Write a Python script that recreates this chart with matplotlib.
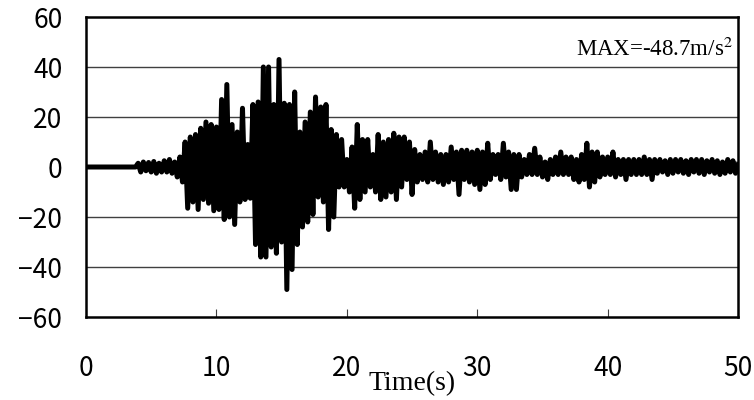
import numpy as np
from matplotlib import pyplot as plt
plt.rcParams["mathtext.fontset"] = "stix"

# time axis (s), 0.2 s step, and acceleration peaks (m/s^2)
t = np.round(np.arange(0, 50.01, 0.2), 1)
acc = [
    0, 0, 0, 0, 0,  0, 0, 0, 0, 0,  0, 0, 0, 0, 0,  0, 0, 0, 0, 0,
    1.5, -2, 2, -1.5, 1.8,          # 4
    -2, 2.2, -2.5, 1.5, -2,         # 5
    2.5, -2, 3, -2.5, 2,            # 6
    -4, 4, -6, 10, -16.5,           # 7
    12, -14, 13, -17, 15.5,         # 8
    -13, 18, -14.5, 17, -17.5,      # 9
    16, -17, 27, -21, 33,           # 10
    -20, 17, -23, 14, -14,          # 11
    23.5, -13, 9, -12.5, 25,        # 12
    -31, 26, -36, 40, -36,          # 13
    40, -32, 25, -34.5, 43,         # 14
    -30, 25.5, -49, 25, -41,        # 15
    30, -31, 14, -24, 18,           # 16
    -22, 22, -19, 28, -12,          # 17
    24, -14, 25, -25, 15,           # 18
    -20, 13, -8, 11, -8,            # 19
    3, -10, 8, -16.5, 17,           # 20
    -13, 11, -10, 11, -8,           # 21
    5, -10, 13, -13, 10,            # 22
    -12, 11, -10, 13.5, -13,        # 23
    12, -8, 12, -5, 10,             # 24
    -11, 7, -6, 5, -5,              # 25
    6, -6, 10, -5, 6,               # 26
    -6, 5, -7, 5, -6,               # 27
    8, -5, 6, -11, 6.7,             # 28
    -5, 6.7, -6, 6, -7,             # 29
    6.7, -9, 6, -7, 9.5,            # 30
    -5, 5, -3, 5, -5,               # 31
    9.5, -4, 6, -9, 5,              # 32
    -9, 5, -4, 3, -3,               # 33
    5, -3, 7.5, -3, 4,              # 34
    -4, 2, -5, 3, -3,               # 35
    4, -3, 6, -3, 4,                # 36
    -3, 4, -5, 3, -6,               # 37
    5, -5, 9.5, -8, 6,              # 38
    -6, 6, -4, 4, -3,               # 39
    4, -3, 6, -4, 3,                # 40
    -3, 3, -5, 3, -3,               # 41
    3, -3, 3, -3, 4,                # 42
    -3, 3, -5, 3, -2.5,             # 43
    3, -2, 2.5, -3, 3,              # 44
    -2.5, 3, -2, 3, -2.5,           # 45
    2.5, -3, 3, -2, 3,              # 46
    -2.5, 3, -3, 2.5, -2,           # 47
    3, -2.5, 2.5, -3, 2,            # 48
    -2.5, 3, -2, 2.5, -2.5,         # 49
    1,                              # 50
]
x_ticks = [0, 10, 20, 30, 40, 50]
y_ticks = [-60, -40, -20, 0, 20, 40, 60]
max_label = "MAX=-48.7m/s$^2$"

tick_font = ['Noto Sans CJK JP', 'DejaVu Sans']
serif_font = ['Liberation Serif', 'DejaVu Serif']

fig = plt.figure(figsize=(7.54, 4.0), dpi=100)
ax = fig.add_axes([0.114, 0.2075, 0.865, 0.75])

for y in [-40, -20, 0, 20, 40]:
    ax.axhline(y, color='#404040', lw=1.0, zorder=1)

ax.plot(t, acc, color='black', lw=3.6, zorder=2)

ax.set_xlim(0, 50)
ax.set_ylim(-60, 60)
ax.set_xticks(x_ticks)
ax.set_yticks(y_ticks)
ax.set_yticklabels([str(v).replace('-', '\u2212') for v in y_ticks])

ax.tick_params(axis='x', direction='in', length=6, width=0.8, color='#404040',
               pad=27, labelsize=19)
ax.tick_params(axis='y', direction='in', length=0, pad=17, labelsize=19)
for lab in ax.get_xticklabels() + ax.get_yticklabels():
    lab.set_family(tick_font)

for s in ax.spines.values():
    s.set_linewidth(1.8)

ax.text(0.992, 0.87, max_label, transform=ax.transAxes, ha='right',
        va='baseline', fontsize=16.5, family=serif_font)
fig.text(0.546, 0.04, "Time(s)", ha='center', va='center', fontsize=20,
         family=serif_font)

fig.savefig("out.png", dpi=100)
